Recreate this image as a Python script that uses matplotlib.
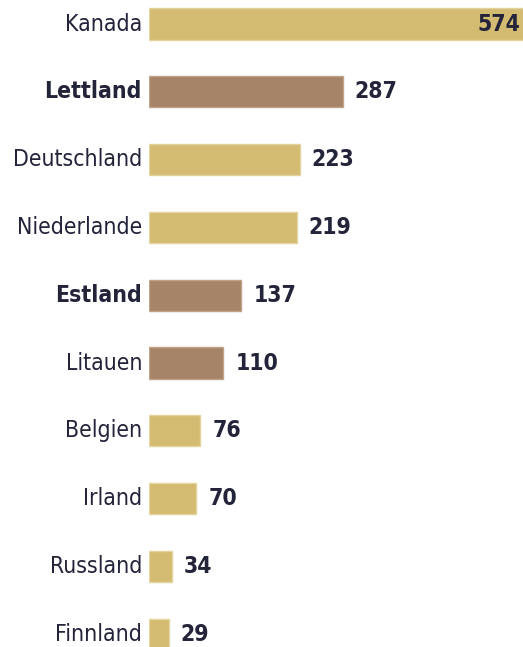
import matplotlib
matplotlib.use("Agg")
import matplotlib.pyplot as plt
from matplotlib import font_manager

countries = ["Kanada", "Lettland", "Deutschland", "Niederlande", "Estland",
             "Litauen", "Belgien", "Irland", "Russland", "Finnland"]
values = [574, 287, 223, 219, 137, 110, 76, 70, 34, 29]
highlight = [False, True, False, False, True, True, False, False, False, False]
bold_label = [False, True, False, False, True, False, False, False, False, False]

YELLOW = "#d3bb72"
BROWN = "#a58467"
TEXT = "#23243a"

cond = [f for f in font_manager.fontManager.ttflist
        if "Condensed" in f.fname and "DejaVuSans" in f.fname.replace(" ", "")]
stretch = "condensed" if cond else "normal"
fsize = 16.5 if cond else 15
plt.rcParams["font.family"] = ["DejaVu Sans"]

W, H = 523, 647
fig = plt.figure(figsize=(W / 100, H / 100), dpi=100)
left_px = 149
ax = fig.add_axes([left_px / W, 0, 1 - left_px / W, 1])
scale = 0.675  # px per unit
ax.set_xlim(0, (W - left_px) / scale)
spacing = 67.8
top_c = 24
ax.set_ylim((H - top_c) / spacing, -top_c / spacing)

ypos = list(range(len(countries)))
colors = [BROWN if h else YELLOW for h in highlight]
edges = ["#e4d39c" if not h else "#c0a38a" for h in highlight]
ax.barh(ypos, values, height=0.46, color=colors, edgecolor=edges, linewidth=1.0)

xmax = ax.get_xlim()[1]
for i, (c, v, b) in enumerate(zip(countries, values, bold_label)):
    ax.text(-7 / scale, i, c, ha="right", va="center", fontsize=fsize,
            fontstretch=stretch, color=TEXT,
            fontweight="bold" if b else "medium", clip_on=False)
    if v > xmax:
        ax.text(xmax - 3 / scale, i, str(v), ha="right", va="center", fontsize=fsize,
                fontstretch=stretch, color=TEXT, fontweight="bold")
    else:
        ax.text(v + 12 / scale, i, str(v), ha="left", va="center", fontsize=fsize,
                fontstretch=stretch, color=TEXT, fontweight="bold")

ax.axis("off")
fig.savefig("out.png", dpi=100)
